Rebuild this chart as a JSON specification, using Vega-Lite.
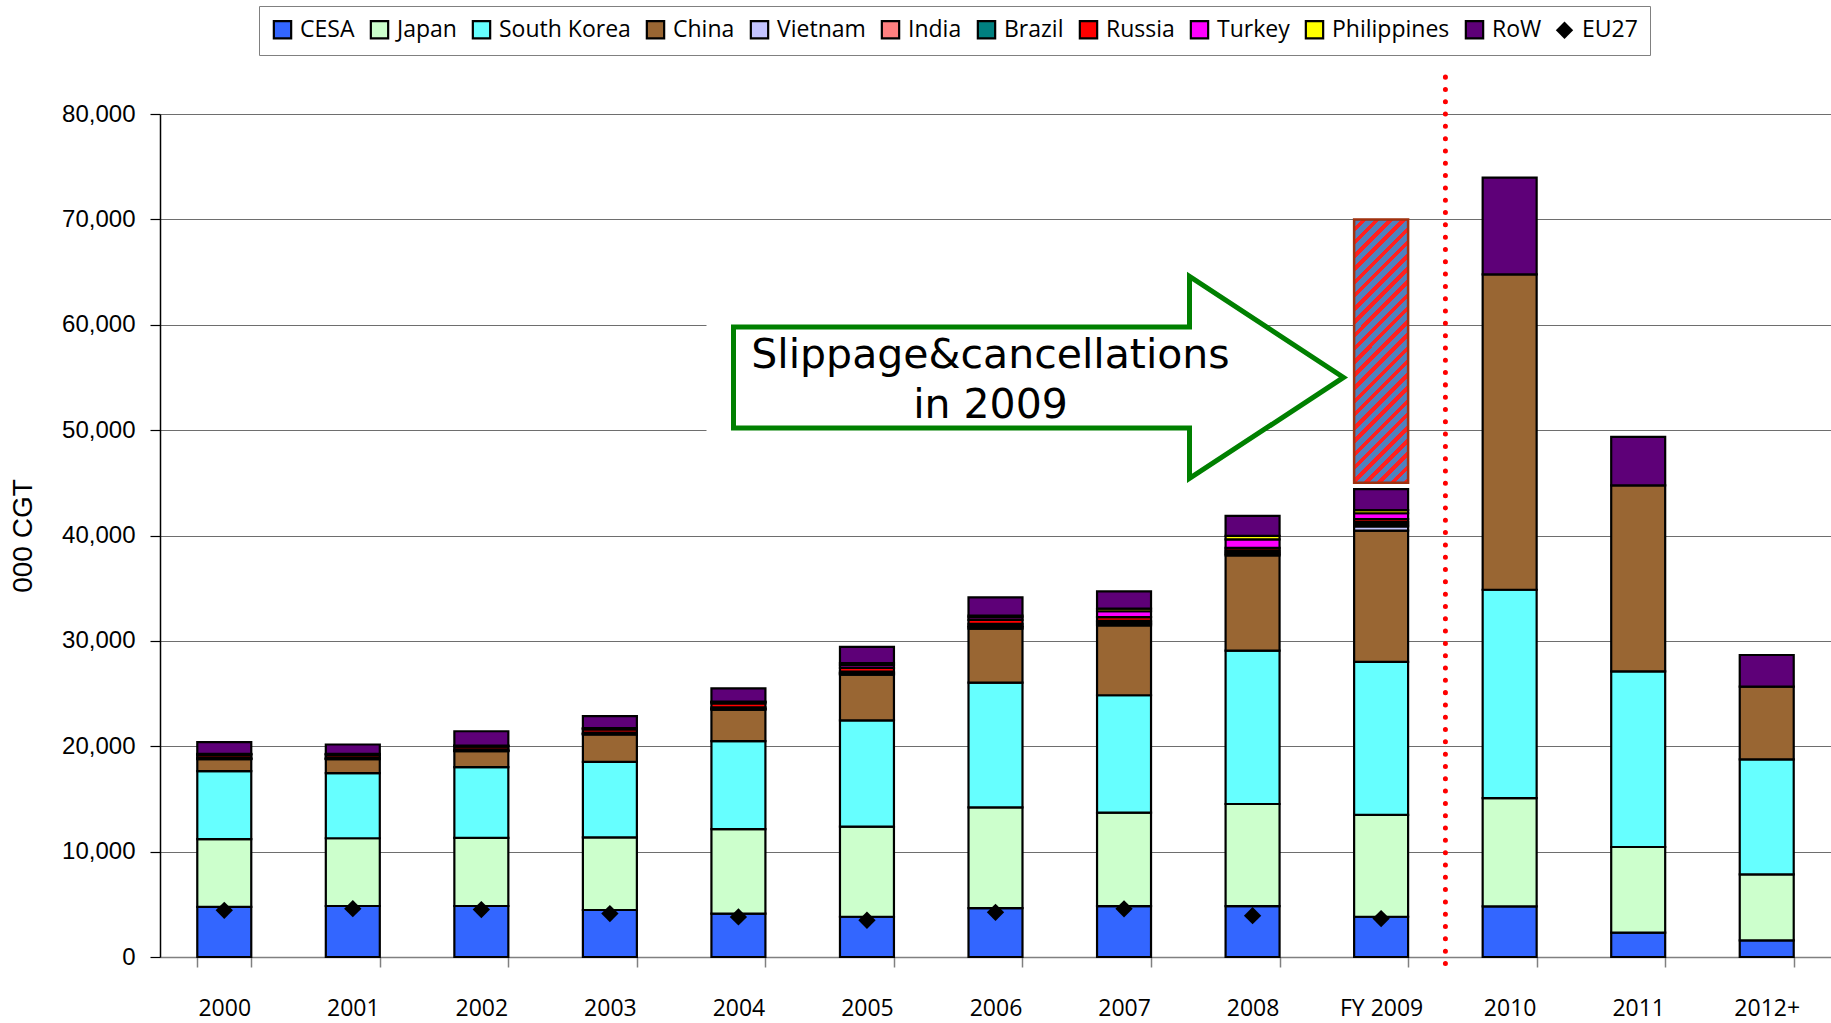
{
  "$schema": "https://vega.github.io/schema/vega-lite/v6.json",
  "width": 1671,
  "height": 843,
  "autosize": {"type": "none"},
  "padding": {"left": 160, "top": 114, "right": 0, "bottom": 66},
  "background": "white",
  "config": {"view": {"stroke": null}},
  "datasets": {
    "ship": [
      {"year": "2000", "CESA": 4750, "Japan": 6430, "South Korea": 6455, "China": 1140, "Vietnam": 30, "India": 30, "Brazil": 100, "Russia": 250, "Turkey": 60, "Philippines": 30, "RoW": 1110, "EU27": 4430},
      {"year": "2001", "CESA": 4840, "Japan": 6430, "South Korea": 6175, "China": 1330, "Vietnam": 30, "India": 30, "Brazil": 100, "Russia": 250, "Turkey": 60, "Philippines": 30, "RoW": 890, "EU27": 4590},
      {"year": "2002", "CESA": 4840, "Japan": 6460, "South Korea": 6715, "China": 1520, "Vietnam": 30, "India": 30, "Brazil": 100, "Russia": 270, "Turkey": 70, "Philippines": 30, "RoW": 1360, "EU27": 4500},
      {"year": "2003", "CESA": 4460, "Japan": 6900, "South Korea": 7160, "China": 2600, "Vietnam": 40, "India": 40, "Brazil": 100, "Russia": 300, "Turkey": 80, "Philippines": 40, "RoW": 1140, "EU27": 4120},
      {"year": "2004", "CESA": 4120, "Japan": 8010, "South Korea": 8360, "China": 2980, "Vietnam": 50, "India": 50, "Brazil": 120, "Russia": 380, "Turkey": 110, "Philippines": 50, "RoW": 1270, "EU27": 3800},
      {"year": "2005", "CESA": 3820, "Japan": 8550, "South Korea": 10080, "China": 4340, "Vietnam": 100, "India": 50, "Brazil": 150, "Russia": 350, "Turkey": 260, "Philippines": 200, "RoW": 1530, "EU27": 3490},
      {"year": "2006", "CESA": 4630, "Japan": 9560, "South Korea": 11850, "China": 5120, "Vietnam": 150, "India": 100, "Brazil": 200, "Russia": 370, "Turkey": 250, "Philippines": 170, "RoW": 1730, "EU27": 4240},
      {"year": "2007", "CESA": 4830, "Japan": 8880, "South Korea": 11130, "China": 6620, "Vietnam": 150, "India": 150, "Brazil": 150, "Russia": 350, "Turkey": 550, "Philippines": 250, "RoW": 1630, "EU27": 4570},
      {"year": "2008", "CESA": 4830, "Japan": 9690, "South Korea": 14550, "China": 9040, "Vietnam": 150, "India": 150, "Brazil": 170, "Russia": 250, "Turkey": 800, "Philippines": 340, "RoW": 1890, "EU27": 3920},
      {"year": "FY 2009", "CESA": 3820, "Japan": 9660, "South Korea": 14520, "China": 12460, "Vietnam": 400, "India": 200, "Brazil": 200, "Russia": 300, "Turkey": 550, "Philippines": 300, "RoW": 2000, "EU27": 3650},
      {"year": "2010", "CESA": 4800, "Japan": 10280, "South Korea": 19770, "China": 29940, "RoW": 9170},
      {"year": "2011", "CESA": 2320, "Japan": 8120, "South Korea": 16660, "China": 17660, "RoW": 4590},
      {"year": "2012+", "CESA": 1580, "Japan": 6270, "South Korea": 10910, "China": 6900, "RoW": 3000}
    ]
  },
  "layer": [
    {
      "data": {"name": "ship"},
      "transform": [
        {"fold": ["CESA", "Japan", "South Korea", "China", "Vietnam", "India", "Brazil", "Russia", "Turkey", "Philippines", "RoW"], "as": ["country", "cgt"]},
        {"filter": "datum.cgt != null"},
        {"calculate": "indexof(['CESA','Japan','South Korea','China','Vietnam','India','Brazil','Russia','Turkey','Philippines','RoW'], datum.country)", "as": "k"}
      ],
      "mark": {"type": "bar", "stroke": "black", "strokeWidth": 2.2},
      "encoding": {
        "x": {
          "field": "year", "type": "nominal",
          "scale": {"domain": ["2000", "2001", "2002", "2003", "2004", "2005", "2006", "2007", "2008", "FY 2009", "2010", "2011", "2012+"], "paddingInner": 0.58, "paddingOuter": 0.29},
          "axis": {"title": null, "labelAngle": 0, "labelFont": "Open Sans", "labelFontSize": 23, "labelColor": "black", "labelPadding": 30, "tickBand": "extent", "tickSize": 10, "tickColor": "#808080", "tickWidth": 1.5, "domainColor": "#808080", "domainWidth": 1.5, "grid": false}
        },
        "y": {
          "field": "cgt", "type": "quantitative", "stack": "zero", "title": "000 CGT",
          "scale": {"domain": [0, 80000], "nice": false},
          "axis": {"titleFont": "Liberation Sans", "titleFontSize": 28, "titleFontWeight": "normal", "titleColor": "black", "titlePadding": 24, "labelFont": "Liberation Sans", "labelFontSize": 24, "labelColor": "black", "labelPadding": 15, "tickSize": 10, "tickColor": "black", "tickWidth": 1.2, "domainColor": "black", "domainWidth": 1.5, "grid": true, "gridColor": "#6E6E6E", "gridWidth": 1.2, "format": ",d", "values": [0, 10000, 20000, 30000, 40000, 50000, 60000, 70000, 80000]}
        },
        "color": {
          "field": "country", "type": "nominal",
          "scale": {
            "domain": ["CESA", "Japan", "South Korea", "China", "Vietnam", "India", "Brazil", "Russia", "Turkey", "Philippines", "RoW", "EU27"],
            "range": ["#3366FF", "#CCFFCC", "#66FFFF", "#996633", "#C4C4FF", "#FF8080", "#008080", "#FF0000", "#FF00FF", "#FFFF00", "#5E0078", "#000000"]
          },
          "legend": {
            "title": null, "orient": "none", "legendX": 99, "legendY": -108, "direction": "horizontal", "columns": 12,
            "symbolType": "square", "symbolSize": 300, "symbolStrokeColor": "black", "symbolStrokeWidth": 2.2, "symbolOpacity": 1,
            "labelFont": "Open Sans", "labelFontSize": 23, "labelColor": "black", "labelOffset": 6, "labelLimit": 300,
            "columnPadding": 11, "padding": 12, "fillColor": "white", "strokeColor": "#808080",
            "encode": {"symbols": {"update": {"shape": {"signal": "datum.value === 'EU27' ? 'diamond' : 'square'"}, "strokeWidth": {"signal": "datum.value === 'EU27' ? 0 : 2.2"}}}}
          }
        },
        "order": {"field": "k", "type": "quantitative", "sort": "ascending"}
      }
    },
    {
      "data": {"values": [{"year": "2006"}]},
      "mark": {"type": "point", "shape": "M-2.89,-0.7L1.95,-0.7L1.95,0.7L-2.89,0.7Z", "size": 40000, "filled": true, "fill": "white", "strokeWidth": 0, "opacity": 1},
      "encoding": {"x": {"field": "year", "type": "nominal"}, "y": {"datum": 55000}}
    },
    {
      "data": {"values": [{"year": "2006"}]},
      "mark": {"type": "point", "shape": "M-2.62,-0.505L1.94,-0.505L1.94,-1.01L3.48,0L1.94,1.01L1.94,0.505L-2.62,0.505Z", "size": 40000, "filled": true, "fill": "white", "stroke": "#008000", "strokeWidth": 5, "strokeJoin": "miter", "opacity": 1},
      "encoding": {"x": {"field": "year", "type": "nominal"}, "y": {"datum": 55000}}
    },
    {
      "data": {"values": [{"year": "2006"}]},
      "mark": {"type": "text", "text": ["Slippage&cancellations", "in 2009"], "font": "DejaVu Sans", "fontSize": 41, "align": "center", "baseline": "middle", "lineHeight": 50, "dx": -5, "color": "black"},
      "encoding": {"x": {"field": "year", "type": "nominal"}, "y": {"datum": 57050}}
    },
    {
      "data": {"values": [{"year": "FY 2009", "lo": 45000, "hi": 70000}]},
      "mark": {
        "type": "bar", "stroke": "#A0320F", "strokeWidth": 2.5,
        "fill": {
          "gradient": "linear", "x1": 0, "y1": 0, "x2": 0.2371, "y2": 1.1566,
          "stops": [
            {"offset": 0, "color": "#4F81BD"},
            {"offset": 0.0242, "color": "#4F81BD"}, {"offset": 0.0242, "color": "#FF2020"}, {"offset": 0.0417, "color": "#FF2020"}, {"offset": 0.0417, "color": "#4F81BD"},
            {"offset": 0.0658, "color": "#4F81BD"}, {"offset": 0.0658, "color": "#FF2020"}, {"offset": 0.0833, "color": "#FF2020"}, {"offset": 0.0833, "color": "#4F81BD"},
            {"offset": 0.1075, "color": "#4F81BD"}, {"offset": 0.1075, "color": "#FF2020"}, {"offset": 0.125, "color": "#FF2020"}, {"offset": 0.125, "color": "#4F81BD"},
            {"offset": 0.1492, "color": "#4F81BD"}, {"offset": 0.1492, "color": "#FF2020"}, {"offset": 0.1667, "color": "#FF2020"}, {"offset": 0.1667, "color": "#4F81BD"},
            {"offset": 0.1908, "color": "#4F81BD"}, {"offset": 0.1908, "color": "#FF2020"}, {"offset": 0.2083, "color": "#FF2020"}, {"offset": 0.2083, "color": "#4F81BD"},
            {"offset": 0.2325, "color": "#4F81BD"}, {"offset": 0.2325, "color": "#FF2020"}, {"offset": 0.25, "color": "#FF2020"}, {"offset": 0.25, "color": "#4F81BD"},
            {"offset": 0.2742, "color": "#4F81BD"}, {"offset": 0.2742, "color": "#FF2020"}, {"offset": 0.2917, "color": "#FF2020"}, {"offset": 0.2917, "color": "#4F81BD"},
            {"offset": 0.3158, "color": "#4F81BD"}, {"offset": 0.3158, "color": "#FF2020"}, {"offset": 0.3333, "color": "#FF2020"}, {"offset": 0.3333, "color": "#4F81BD"},
            {"offset": 0.3575, "color": "#4F81BD"}, {"offset": 0.3575, "color": "#FF2020"}, {"offset": 0.375, "color": "#FF2020"}, {"offset": 0.375, "color": "#4F81BD"},
            {"offset": 0.3992, "color": "#4F81BD"}, {"offset": 0.3992, "color": "#FF2020"}, {"offset": 0.4167, "color": "#FF2020"}, {"offset": 0.4167, "color": "#4F81BD"},
            {"offset": 0.4408, "color": "#4F81BD"}, {"offset": 0.4408, "color": "#FF2020"}, {"offset": 0.4583, "color": "#FF2020"}, {"offset": 0.4583, "color": "#4F81BD"},
            {"offset": 0.4825, "color": "#4F81BD"}, {"offset": 0.4825, "color": "#FF2020"}, {"offset": 0.5, "color": "#FF2020"}, {"offset": 0.5, "color": "#4F81BD"},
            {"offset": 0.5242, "color": "#4F81BD"}, {"offset": 0.5242, "color": "#FF2020"}, {"offset": 0.5417, "color": "#FF2020"}, {"offset": 0.5417, "color": "#4F81BD"},
            {"offset": 0.5658, "color": "#4F81BD"}, {"offset": 0.5658, "color": "#FF2020"}, {"offset": 0.5833, "color": "#FF2020"}, {"offset": 0.5833, "color": "#4F81BD"},
            {"offset": 0.6075, "color": "#4F81BD"}, {"offset": 0.6075, "color": "#FF2020"}, {"offset": 0.625, "color": "#FF2020"}, {"offset": 0.625, "color": "#4F81BD"},
            {"offset": 0.6492, "color": "#4F81BD"}, {"offset": 0.6492, "color": "#FF2020"}, {"offset": 0.6667, "color": "#FF2020"}, {"offset": 0.6667, "color": "#4F81BD"},
            {"offset": 0.6908, "color": "#4F81BD"}, {"offset": 0.6908, "color": "#FF2020"}, {"offset": 0.7083, "color": "#FF2020"}, {"offset": 0.7083, "color": "#4F81BD"},
            {"offset": 0.7325, "color": "#4F81BD"}, {"offset": 0.7325, "color": "#FF2020"}, {"offset": 0.75, "color": "#FF2020"}, {"offset": 0.75, "color": "#4F81BD"},
            {"offset": 0.7742, "color": "#4F81BD"}, {"offset": 0.7742, "color": "#FF2020"}, {"offset": 0.7917, "color": "#FF2020"}, {"offset": 0.7917, "color": "#4F81BD"},
            {"offset": 0.8158, "color": "#4F81BD"}, {"offset": 0.8158, "color": "#FF2020"}, {"offset": 0.8333, "color": "#FF2020"}, {"offset": 0.8333, "color": "#4F81BD"},
            {"offset": 0.8575, "color": "#4F81BD"}, {"offset": 0.8575, "color": "#FF2020"}, {"offset": 0.875, "color": "#FF2020"}, {"offset": 0.875, "color": "#4F81BD"},
            {"offset": 0.8992, "color": "#4F81BD"}, {"offset": 0.8992, "color": "#FF2020"}, {"offset": 0.9167, "color": "#FF2020"}, {"offset": 0.9167, "color": "#4F81BD"},
            {"offset": 0.9408, "color": "#4F81BD"}, {"offset": 0.9408, "color": "#FF2020"}, {"offset": 0.9583, "color": "#FF2020"}, {"offset": 0.9583, "color": "#4F81BD"},
            {"offset": 0.9825, "color": "#4F81BD"}, {"offset": 0.9825, "color": "#FF2020"}, {"offset": 1, "color": "#FF2020"}
          ]
        }
      },
      "encoding": {
        "x": {"field": "year", "type": "nominal"},
        "y": {"field": "lo", "type": "quantitative", "title": "000 CGT"},
        "y2": {"field": "hi"}
      }
    },
    {
      "data": {"values": [{"year": "2010"}]},
      "mark": {"type": "rule", "color": "#FF0000", "strokeWidth": 5, "strokeDash": [0.01, 12.3], "strokeCap": "round"},
      "encoding": {
        "x": {"field": "year", "type": "nominal", "bandPosition": -0.69},
        "y": {"datum": 83500},
        "y2": {"datum": -1000}
      }
    },
    {
      "data": {"name": "ship"},
      "transform": [{"filter": "datum.EU27 != null"}],
      "mark": {"type": "point", "shape": "diamond", "filled": true, "color": "black", "size": 300, "opacity": 1},
      "encoding": {
        "x": {"field": "year", "type": "nominal"},
        "y": {"field": "EU27", "type": "quantitative", "title": "000 CGT"}
      }
    }
  ]
}
